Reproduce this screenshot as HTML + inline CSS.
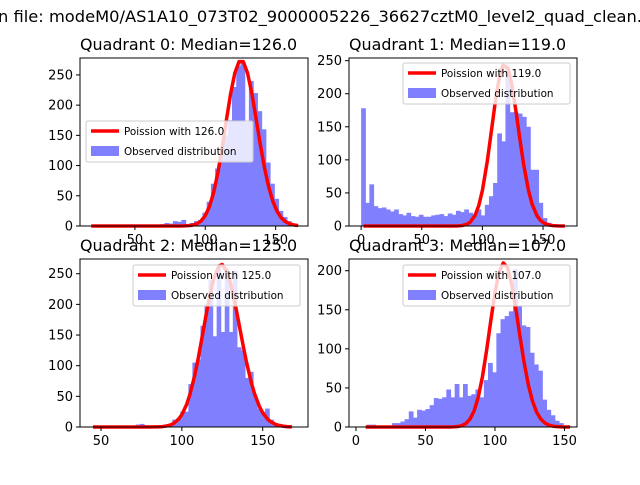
<!DOCTYPE html>
<html><head><meta charset="utf-8"><style>
body{margin:0;background:#fff;width:640px;height:480px;overflow:hidden}
svg{font-family:"DejaVu Sans","Liberation Sans",sans-serif}
</style></head><body>
<svg id="fig" width="640" height="480">
<rect width="640" height="480" fill="#fff"/>
<text x="-2" y="22" font-size="16.3">n file: modeM0/AS1A10_073T02_9000005226_36627cztM0_level2_quad_clean.evt</text>
</svg>
<script>
// ---- data ----
const q0Counts=[0,0,0,0,0,0,0,0,0,0,0,0,0,0,0,0,0,3,5,4,8,7,10,3,5,8,10,22,40,70,95,125,150,175,230,265,272,172,240,220,190,160,105,70,45,25,15,8,3,1];
const q1Counts=[178,35,63,30,27,28,25,22,25,18,16,20,15,14,17,14,14,16,17,18,15,19,17,23,21,25,20,18,25,16,32,45,65,140,128,240,172,172,170,165,150,85,85,35,12,5,2,1,0,0];
const q2Counts=[0,0,0,0,1,0,0,0,0,1,2,4,5,3,1,0,1,2,3,5,12,14,25,25,70,105,110,165,200,240,148,265,155,258,155,255,130,125,80,90,50,30,25,30,12,6,2,1,0,0];
const q3Counts=[0,3,3,1,2,1,1,5,5,7,10,20,12,22,21,23,28,37,36,38,48,38,55,38,55,40,42,48,38,60,82,70,120,138,142,148,202,155,130,128,95,80,72,35,22,15,8,5,2,1];
const binStarts=[17,0,44,5];
const binWidths=[3,3.4,2.5,3];
const medians=[126.0,119.0,125.0,107.0];
const poissonPeaks=[272,243,265,210];
const xTicks=[[50,100,150],[0,50,100,150],[50,100,150],[0,50,100,150]];
const yTicks=[[0,50,100,150,200,250],[0,50,100,150,200,250],[0,50,100,150,200,250],[0,50,100,150,200]];
const xRanges=[[11,173],[-10,178],[37,178],[-5,159]];
const yMaxes=[278,254,274,215];
// ---- layout ----
const boxes=[[80,58,228,168],[349,58,228,168],[80,259,228,168],[349,259,228,168]];
const legendPos=[[86,121],[403,63],[133,265],[403,265]];
const counts=[q0Counts,q1Counts,q2Counts,q3Counts];
const NS="http://www.w3.org/2000/svg";
const svg=document.getElementById('fig');
function mk(tag,attrs,parent){const e=document.createElementNS(NS,tag);for(const k in attrs)e.setAttribute(k,attrs[k]);(parent||svg).appendChild(e);return e;}
function lgamma(z){const c=[76.18009172947146,-86.50532032941677,24.01409824083091,-1.231739572450155,0.1208650973866179e-2,-0.5395239384953e-5];let x=z,y=z,t=x+5.5;t-=(x+0.5)*Math.log(t);let s=1.000000000190015;for(let j=0;j<6;j++)s+=c[j]/++y;return -t+Math.log(2.5066282746310005*s/x);}
function pois(k,m){return Math.exp(k*Math.log(m)-m-lgamma(k+1));}
for(let q=0;q<4;q++){
  const [bx,by,bw,bh]=boxes[q];const [x0,x1]=xRanges[q];const ym=yMaxes[q];
  const X=v=>bx+(v-x0)/(x1-x0)*bw;const Y=v=>by+bh-v/ym*bh;
  const g=mk('g',{});
  
  
  const t=mk('text',{x:bx,y:by-8,'font-size':15.9},g);t.textContent='Quadrant '+q+': Median='+medians[q].toFixed(1);
  
  
  const c=counts[q];
  c.forEach((v,i)=>{const s=binStarts[q]+i*binWidths[q];
    const r=mk('rect',{x:X(s),y:Y(v),width:X(s+binWidths[q])-X(s)+0.6,height:Y(0)-Y(v),fill:'#8080ff'},g);
    
    });
  const m=medians[q];let pts=[];let mx=0;
  for(let i=0;i<c.length;i++){const k=Math.round(binStarts[q]+(i+0.5)*binWidths[q]);mx=Math.max(mx,pois(k,m));}
  for(let i=0;i<c.length;i++){const k=Math.round(binStarts[q]+(i+0.5)*binWidths[q]);pts.push(X(k)+','+Y(pois(k,m)/mx*poissonPeaks[q]));}
  const pl=mk('polyline',{points:pts.join(' '),fill:'none',stroke:'#ff0000','stroke-width':3.5,'stroke-linejoin':'round'},g);
  
  
  const fr=mk('rect',{x:bx,y:by,width:bw,height:bh,fill:'none',stroke:'#000','stroke-width':1},g);
  
  
  xTicks[q].forEach(v=>{mk('line',{x1:X(v),x2:X(v),y1:by+bh,y2:by+bh+4,stroke:'#000'},g);
    const tt=mk('text',{x:X(v),y:by+bh+18,'font-size':13,'text-anchor':'middle'},g);tt.textContent=v;
    
    });
  yTicks[q].forEach(v=>{mk('line',{x1:bx-4,x2:bx,y1:Y(v),y2:Y(v),stroke:'#000'},g);
    const tt=mk('text',{x:bx-7,y:Y(v)+4.5,'font-size':13,'text-anchor':'end'},g);tt.textContent=v;
    
    });
  const [lx,ly]=legendPos[q];
  const lg=mk('g',{},g);
  
  
  mk('rect',{x:lx,y:ly,width:167,height:41,rx:2,fill:'#fff','fill-opacity':0.8,stroke:'#ccc'},lg);
  mk('line',{x1:lx+5,x2:lx+33,y1:ly+10,y2:ly+10,stroke:'#ff0000','stroke-width':3.5},lg);
  const l1=mk('text',{x:lx+38,y:ly+14,'font-size':10.4},lg);l1.textContent='Poission with '+medians[q].toFixed(1);
  
  
  mk('rect',{x:lx+5,y:ly+25,width:28,height:10,fill:'#8080ff'},lg);
  const l2=mk('text',{x:lx+38,y:ly+34,'font-size':10.4},lg);l2.textContent='Observed distribution';
  
  
}
</script>
</body></html>
